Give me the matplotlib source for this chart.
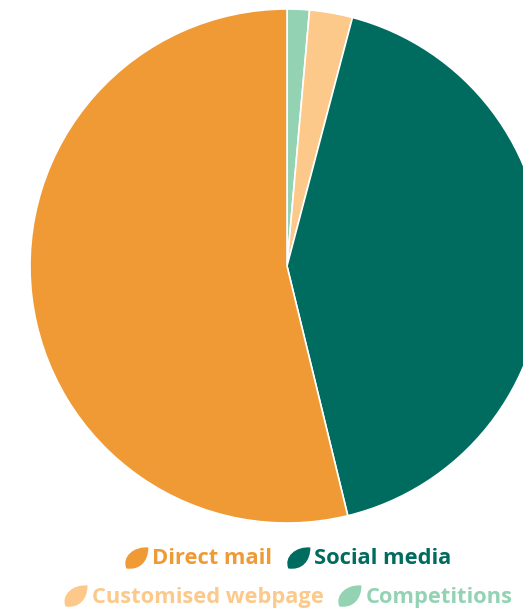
import matplotlib
matplotlib.use("Agg")
import matplotlib.pyplot as plt
from matplotlib.path import Path
from matplotlib.patches import PathPatch

# Data (clockwise from 12 o'clock)
labels = ["Competitions", "Customised webpage", "Social media", "Direct mail"]
values = [1.4, 2.7, 42.1, 53.8]
colors = ["#93D3B4", "#FDC98A", "#006B5F", "#F09A36"]
legend_rows = [["Direct mail", "Social media"], ["Customised webpage", "Competitions"]]

W, H = 523, 611
fig = plt.figure(figsize=(W / 100, H / 100), dpi=100)
fig.patch.set_facecolor("white")

cx, cy, r = 287, 266, 257
ax = fig.add_axes([(cx - r) / W, (H - cy - r) / H, 2 * r / W, 2 * r / H])
ax.pie(values, colors=colors, startangle=90, counterclock=False, radius=1,
       wedgeprops=dict(edgecolor="white", linewidth=1.2))
ax.set_xlim(-1, 1)
ax.set_ylim(-1, 1)
ax.set_aspect("auto")
ax.axis("off")

# overlay for legend in pixel coords
ov = fig.add_axes([0, 0, 1, 1])
ov.set_xlim(0, W)
ov.set_ylim(H, 0)
ov.axis("off")

color_of = dict(zip(labels, colors))
fam = ["Open Sans", "DejaVu Sans"]

fig.canvas.draw()
renderer = fig.canvas.get_renderer()

def text_w(s, size):
    t = ov.text(0, 0, s, family=fam, weight="bold", size=size)
    w = t.get_window_extent(renderer).width
    t.remove()
    return w

size = 15.0
size = size * 120.0 / text_w("Direct mail", size)
font = dict(family=fam, weight="bold", size=size)

def leaf(x0, yc, color, w=24, h=21):
    # leaf: broad, blunt bottom-left, pointed top-right
    bl = (x0 + 2, yc + h / 2)
    tr = (x0 + w, yc - h / 2)
    verts = [bl,
             (x0 - 3, yc - h * 0.05), (x0 + w * 0.4, yc - h / 2 - 1.5), tr,
             (x0 + w * 1.0, yc + h * 0.15), (x0 + w * 0.65, yc + h / 2 + 2), bl,
             bl]
    codes = [Path.MOVETO, Path.CURVE4, Path.CURVE4, Path.CURVE4,
             Path.CURVE4, Path.CURVE4, Path.CURVE4, Path.CLOSEPOLY]
    ov.add_patch(PathPatch(Path(verts, codes), facecolor=color, edgecolor="none"))

leaf_w, gap_lt, gap_e = 24, 4, 14
row_y = [558, 596]
for row, yc in zip(legend_rows, row_y):
    widths = [text_w(lab, size) for lab in row]
    total = sum(leaf_w + gap_lt + w for w in widths) + gap_e * (len(row) - 1)
    x = cx + 1 - total / 2
    for lab, w in zip(row, widths):
        c = color_of[lab]
        leaf(x, yc, c)
        ov.text(x + leaf_w + gap_lt, yc + 1, lab, color=c, va="center", ha="left", **font)
        x += leaf_w + gap_lt + w + gap_e

fig.savefig("out.png", dpi=100, facecolor="white")
